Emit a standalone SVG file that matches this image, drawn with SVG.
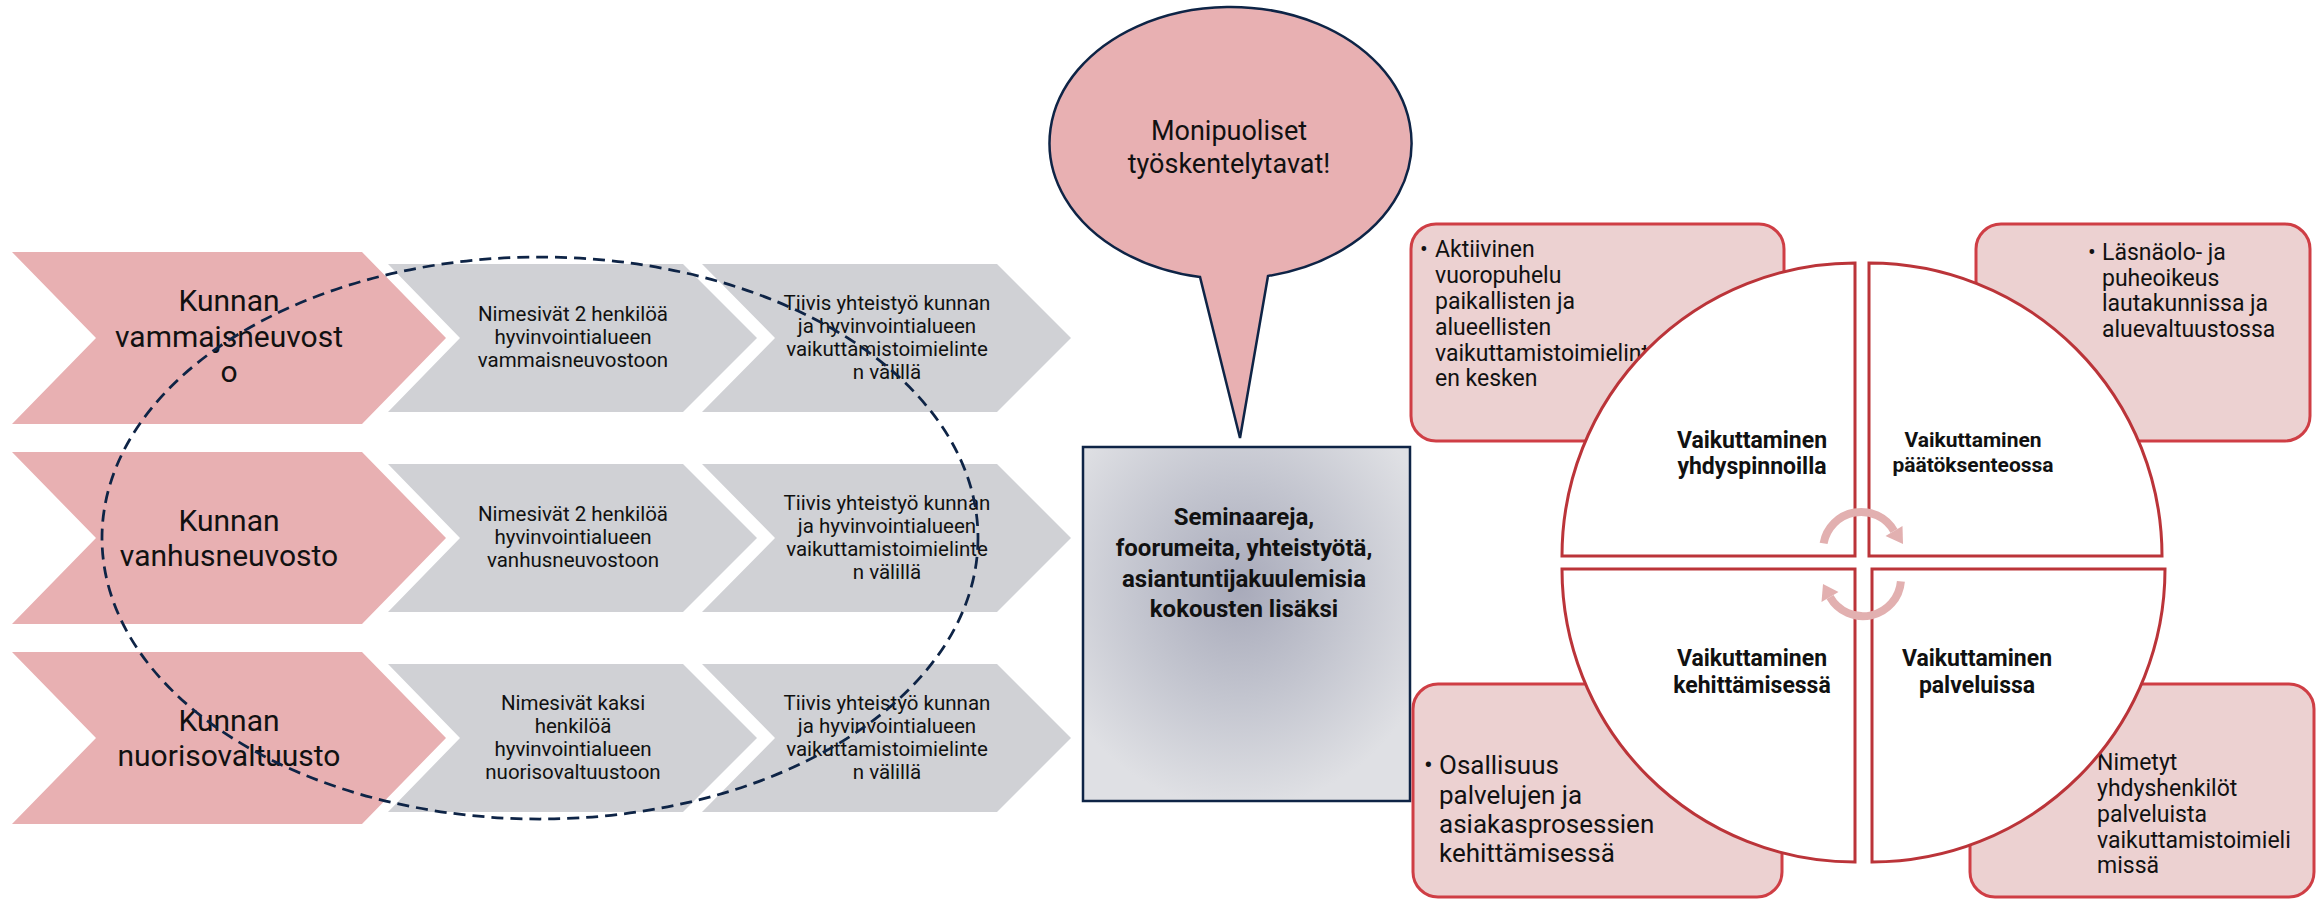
<svg xmlns="http://www.w3.org/2000/svg" width="2323" height="900" viewBox="0 0 2323 900">
<defs>
<radialGradient id="boxGrad" cx="48%" cy="40%" r="62%">
<stop offset="0" stop-color="#a8aaba"/>
<stop offset="0.5" stop-color="#c3c5cf"/>
<stop offset="1" stop-color="#dfe0e4"/>
</radialGradient>
<style>
text{font-family:Roboto,"Liberation Sans",sans-serif;fill:#111}
.pink{fill:#e8b0b2}
.gray{fill:#d0d1d5}
.pt{font-size:30px;text-anchor:middle}
.gt{font-size:20.5px;text-anchor:middle}
.box{fill:#ecd1d1;stroke:#cf3e45;stroke-width:3}
.quad{fill:#ffffff;stroke:#bb3439;stroke-width:3}
.bt{font-size:23px}
.ql{font-size:23px;font-weight:bold;text-anchor:middle}
.arr{fill:none;stroke:#e2b0b0;stroke-width:8}
.arrh{fill:#e2b0b0}
</style>
</defs>
<rect width="2323" height="900" fill="#ffffff"/>

<g id="row1">
<polygon class="pink" points="12,252 362,252 446,338 362,424 12,424 96,338"/>
<text class="pt" x="229" y="311">Kunnan</text>
<text class="pt" x="229" y="347">vammajsneuvost</text>
<text class="pt" x="229" y="382">o</text>
</g>
<g id="row1-step2">
<polygon class="gray" points="388,264 683,264 757,338 683,412 388,412 460,338"/>
<text class="gt" x="573" y="321">Nimesivät 2 henkilöä</text>
<text class="gt" x="573" y="344">hyvinvointialueen</text>
<text class="gt" x="573" y="367">vammaisneuvostoon</text>
</g>
<g id="row1-step3">
<polygon class="gray" points="702,264 997,264 1071,338 997,412 702,412 775,338"/>
<text class="gt" x="887" y="310">Tiivis yhteistyö kunnan</text>
<text class="gt" x="887" y="333">ja hyvinvointialueen</text>
<text class="gt" x="887" y="356">vaikuttamistoimielinte</text>
<text class="gt" x="887" y="379">n välillä</text>
</g>

<g id="row2">
<polygon class="pink" points="12,452 362,452 446,538 362,624 12,624 96,538"/>
<text class="pt" x="229" y="531">Kunnan</text>
<text class="pt" x="229" y="566">vanhusneuvosto</text>
</g>
<g id="row2-step2">
<polygon class="gray" points="388,464 683,464 757,538 683,612 388,612 460,538"/>
<text class="gt" x="573" y="521">Nimesivät 2 henkilöä</text>
<text class="gt" x="573" y="544">hyvinvointialueen</text>
<text class="gt" x="573" y="567">vanhusneuvostoon</text>
</g>
<g id="row2-step3">
<polygon class="gray" points="702,464 997,464 1071,538 997,612 702,612 775,538"/>
<text class="gt" x="887" y="510">Tiivis yhteistyö kunnan</text>
<text class="gt" x="887" y="533">ja hyvinvointialueen</text>
<text class="gt" x="887" y="556">vaikuttamistoimielinte</text>
<text class="gt" x="887" y="579">n välillä</text>
</g>

<g id="row3">
<polygon class="pink" points="12,652 362,652 446,738 362,824 12,824 96,738"/>
<text class="pt" x="229" y="731">Kunnan</text>
<text class="pt" x="229" y="766">nuorisovaltuusto</text>
</g>
<g id="row3-step2">
<polygon class="gray" points="388,664 683,664 757,738 683,812 388,812 460,738"/>
<text class="gt" x="573" y="710">Nimesivät kaksi</text>
<text class="gt" x="573" y="733">henkilöä</text>
<text class="gt" x="573" y="756">hyvinvointialueen</text>
<text class="gt" x="573" y="779">nuorisovaltuustoon</text>
</g>
<g id="row3-step3">
<polygon class="gray" points="702,664 997,664 1071,738 997,812 702,812 775,738"/>
<text class="gt" x="887" y="710">Tiivis yhteistyö kunnan</text>
<text class="gt" x="887" y="733">ja hyvinvointialueen</text>
<text class="gt" x="887" y="756">vaikuttamistoimielinte</text>
<text class="gt" x="887" y="779">n välillä</text>
</g>

<g id="dashed-ellipse">
<ellipse cx="540" cy="538" rx="438" ry="281" fill="none" stroke="#0e2446" stroke-width="2.75" stroke-dasharray="12 7"/>
</g>

<g id="speech-bubble">
<path d="M 1268 276 L 1240 438 L 1200 277 A 181 136 0 1 1 1268 276 Z" fill="#e8b0b2" stroke="#0e2446" stroke-width="2.5" stroke-linejoin="miter"/>
<text x="1229" y="140" font-size="27" text-anchor="middle">Monipuoliset</text>
<text x="1229" y="173" font-size="27" text-anchor="middle">työskentelytavat!</text>
</g>

<g id="center-box">
<rect x="1083" y="447" width="327" height="354" fill="url(#boxGrad)" stroke="#0e2446" stroke-width="2.5"/>
<text x="1244" y="525" font-size="24" font-weight="bold" text-anchor="middle">Seminaareja,</text>
<text x="1244" y="556" font-size="24" font-weight="bold" text-anchor="middle">foorumeita, yhteistyötä,</text>
<text x="1244" y="587" font-size="24" font-weight="bold" text-anchor="middle">asiantuntijakuulemisia</text>
<text x="1244" y="617" font-size="24" font-weight="bold" text-anchor="middle">kokousten lisäksi</text>
</g>

<g id="box-topleft">
<rect class="box" x="1411" y="224" width="373" height="217" rx="25" ry="25"/>
<text class="bt" x="1420" y="257">•</text>
<text class="bt" x="1435" y="257">Aktiivinen</text>
<text class="bt" x="1435" y="283">vuoropuhelu</text>
<text class="bt" x="1435" y="309">paikallisten ja</text>
<text class="bt" x="1435" y="335">alueellisten</text>
<text class="bt" x="1435" y="361">vaikuttamistoimielint</text>
<text class="bt" x="1435" y="386">en kesken</text>
</g>
<g id="box-topright">
<rect class="box" x="1976" y="224" width="334" height="217" rx="25" ry="25"/>
<text class="bt" x="2088" y="260">•</text>
<text class="bt" x="2102" y="260">Läsnäolo- ja</text>
<text class="bt" x="2102" y="286">puheoikeus</text>
<text class="bt" x="2102" y="311">lautakunnissa ja</text>
<text class="bt" x="2102" y="337">aluevaltuustossa</text>
</g>
<g id="box-bottomleft">
<rect class="box" x="1413" y="684" width="369" height="213" rx="25" ry="25"/>
<text x="1424" y="774" font-size="26">•</text>
<text x="1439" y="774" font-size="26">Osallisuus</text>
<text x="1439" y="804" font-size="26">palvelujen ja</text>
<text x="1439" y="833" font-size="26">asiakasprosessien</text>
<text x="1439" y="862" font-size="26">kehittämisessä</text>
</g>
<g id="box-bottomright">
<rect class="box" x="1970" y="684" width="344" height="213" rx="25" ry="25"/>
<text class="bt" x="2097" y="770">Nimetyt</text>
<text class="bt" x="2097" y="796">yhdyshenkilöt</text>
<text class="bt" x="2097" y="822">palveluista</text>
<text class="bt" x="2097" y="848">vaikuttamistoimieli</text>
<text class="bt" x="2097" y="873">missä</text>
</g>

<g id="quadrant-tl">
<path class="quad" d="M 1855 556 L 1562 556 A 293 293 0 0 1 1855 263 Z"/>
<text class="ql" x="1752" y="448">Vaikuttaminen</text>
<text class="ql" x="1752" y="474">yhdyspinnoilla</text>
</g>
<g id="quadrant-tr">
<path class="quad" d="M 1869 556 L 1869 263 A 293 293 0 0 1 2162 556 Z"/>
<text x="1973" y="447" font-size="21" font-weight="bold" text-anchor="middle">Vaikuttaminen</text>
<text x="1973" y="472" font-size="21" font-weight="bold" text-anchor="middle">päätöksenteossa</text>
</g>
<g id="quadrant-bl">
<path class="quad" d="M 1855 569 L 1855 862 A 293 293 0 0 1 1562 569 Z"/>
<text class="ql" x="1752" y="666">Vaikuttaminen</text>
<text class="ql" x="1752" y="693">kehittämisessä</text>
</g>
<g id="quadrant-br">
<path class="quad" d="M 1872 569 L 2165 569 A 293 293 0 0 1 1872 862 Z"/>
<text class="ql" x="1977" y="666">Vaikuttaminen</text>
<text class="ql" x="1977" y="693">palveluissa</text>
</g>

<g id="connectors">
<path class="arr" d="M 1823.6 543.4 A 38 38 0 0 1 1894 531"/>
<polygon class="arrh" points="1903,544 1902.5,526 1885.5,536"/>
<path class="arr" d="M 1900.9 581.3 A 38 38 0 0 1 1830 597"/>
<polygon class="arrh" points="1823,584 1821.5,601.9 1838.5,592.1"/>
</g>
</svg>
